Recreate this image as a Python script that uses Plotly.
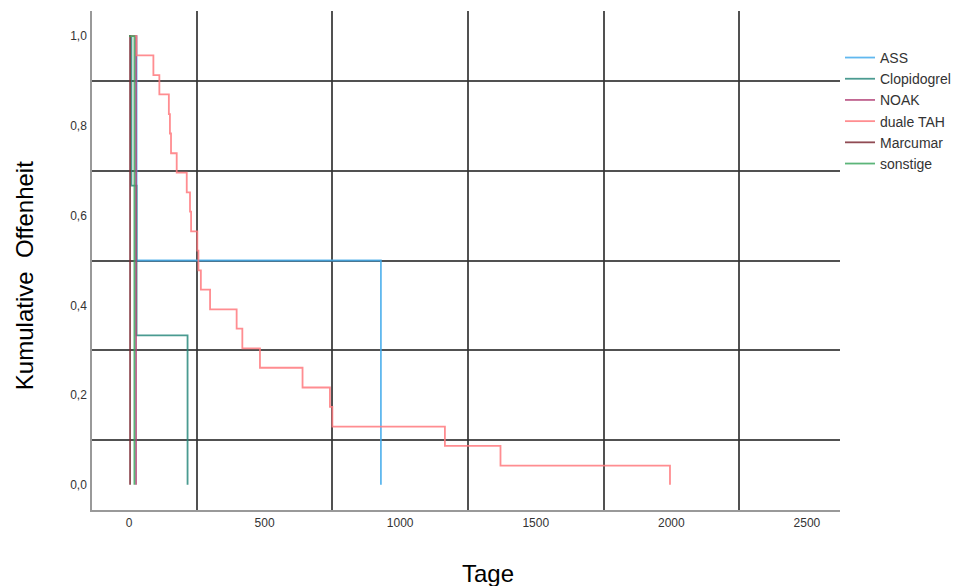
import plotly.graph_objects as go

# ---- data (Kaplan-Meier steps) ----
ass_t = [0, 28, 929]
ass_v = [1.0, 0.5, 0.0]

clop_t = [0, 9, 28, 216]
clop_v = [1.0, 0.667, 0.333, 0.0]

noak_t = [0, 26]
noak_v = [1.0, 0.0]

dtah_t = [0, 28, 90, 112, 147, 151, 155, 176, 213, 225, 229, 252, 256, 265,
          299, 397, 418, 483, 640, 741, 750, 1165, 1370, 1995]
dtah_v = [1.0, 0.957, 0.913, 0.870, 0.826, 0.783, 0.739, 0.696, 0.652, 0.609,
          0.565, 0.522, 0.478, 0.435, 0.391, 0.348, 0.304, 0.261, 0.217, 0.174,
          0.130, 0.087, 0.043, 0.0]

marc_t = [0, 4]
marc_v = [1.0, 0.0]

sonst_t = [0, 20]
sonst_v = [1.0, 0.0]

x_tickvals = [0, 500, 1000, 1500, 2000, 2500]
x_ticktext = ["0", "500", "1000", "1500", "2000", "2500"]
x_gridvals = [250, 750, 1250, 1750, 2250]
y_tickvals = [0.0, 0.2, 0.4, 0.6, 0.8, 1.0]
y_ticktext = ["0,0", "0,2", "0,4", "0,6", "0,8", "1,0"]
y_gridvals = [0.1, 0.3, 0.5, 0.7, 0.9]

series = [
    ("ASS", ass_t, ass_v, "#45acec"),
    ("Clopidogrel", clop_t, clop_v, "#2b8a7e"),
    ("NOAK", noak_t, noak_v, "#b4457a"),
    ("duale TAH", dtah_t, dtah_v, "#ff7a7e"),
    ("Marcumar", marc_t, marc_v, "#7c2c36"),
    ("sonstige", sonst_t, sonst_v, "#3fa862"),
]

fig = go.Figure()
for name, t, v, col in series:
    fig.add_trace(go.Scatter(
        x=t, y=v, name=name, mode="lines",
        line=dict(color=col, width=1.8, shape="hv"),
        opacity=0.85,
    ))

FONT = "Liberation Sans, Arial, sans-serif"
grid_col = "rgba(50,50,50,0.85)"

# the page body has an 8px margin, so the figure is sized/offset to fit the window
fig.update_layout(
    width=962, height=578,
    paper_bgcolor="white", plot_bgcolor="white",
    margin=dict(l=84, r=130, t=3, b=76),
    font=dict(family=FONT, color="#333"),
    showlegend=True,
    legend=dict(x=1.0, xanchor="left", y=0.938, yanchor="top",
                font=dict(size=14, color="#333"), bgcolor="rgba(0,0,0,0)",
                itemwidth=30, tracegroupgap=0),
    annotations=[
        dict(text="Tage", xref="paper", yref="paper", x=0.529, y=-0.127,
             xanchor="center", yanchor="middle", showarrow=False,
             font=dict(size=24, color="black", family=FONT)),
        dict(text="Kumulative  Offenheit", xref="paper", yref="paper",
             x=-0.09, y=0.47, textangle=-90, xanchor="center", yanchor="middle",
             showarrow=False, font=dict(size=24, color="black", family=FONT)),
    ],
)

fig.update_xaxes(
    range=[-136.4, 2622], tickmode="array", tickvals=x_tickvals, ticktext=x_ticktext,
    showgrid=False, zeroline=False, showline=True, linecolor="#999", linewidth=1.5,
    ticks="outside", ticklen=1, tickcolor="rgba(0,0,0,0)",
    tickfont=dict(size=12, color="#333"),
    minor=dict(tickmode="array", tickvals=x_gridvals, showgrid=True,
               gridcolor=grid_col, gridwidth=2),
)
fig.update_yaxes(
    range=[-0.056, 1.056], tickmode="array", tickvals=y_tickvals, ticktext=y_ticktext,
    showgrid=False, zeroline=False, showline=True, linecolor="#999", linewidth=1.5,
    ticks="outside", ticklen=1, tickcolor="rgba(0,0,0,0)",
    tickfont=dict(size=12, color="#333"),
    minor=dict(tickmode="array", tickvals=y_gridvals, showgrid=True,
               gridcolor=grid_col, gridwidth=2),
)

fig.write_html("out.html")
